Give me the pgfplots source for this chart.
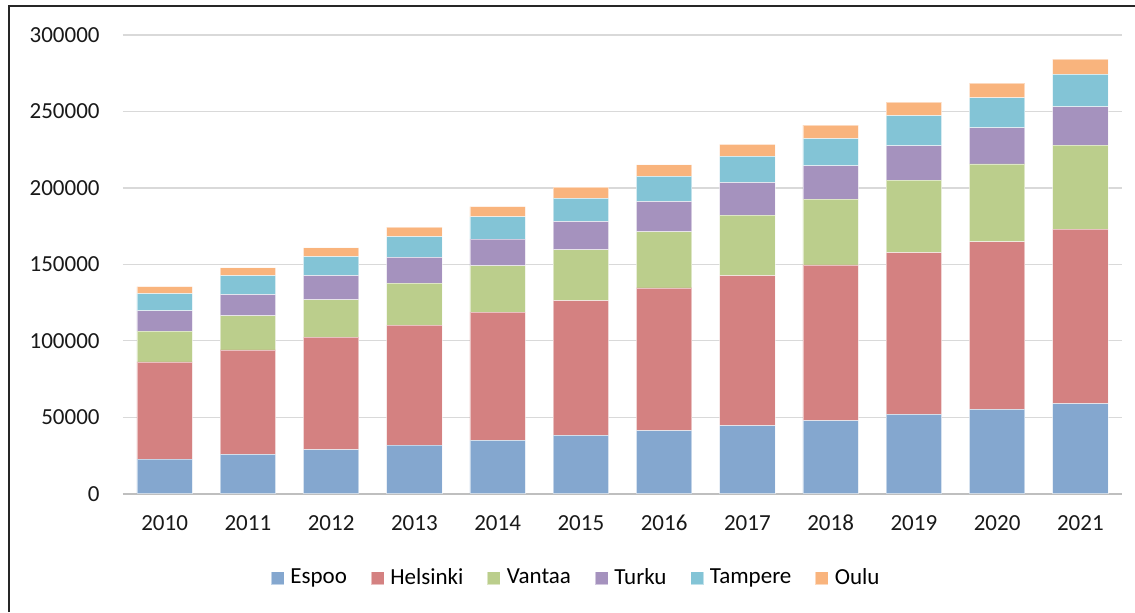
\documentclass[border=0pt]{standalone}
\usepackage{pgfplots}
\pgfplotsset{compat=1.18}
\usepackage{fontspec}
\setmainfont{Carlito}
\definecolor{cEspoo}{RGB}{132,167,207}
\definecolor{cHels}{RGB}{212,129,129}
\definecolor{cVant}{RGB}{187,206,140}
\definecolor{cTurku}{RGB}{165,146,190}
\definecolor{cTamp}{RGB}{131,196,214}
\definecolor{cOulu}{RGB}{249,180,125}
\definecolor{gridc}{RGB}{217,217,217}
\definecolor{axc}{RGB}{191,191,191}
\begin{document}
\begin{tikzpicture}
\begin{scope}[x=0.5pt,y=-0.5pt]
\path[use as bounding box] (0,0) rectangle (1135,612);
\draw[line width=0.6pt, black!85] (9,612) -- (9,6) -- (1135,6);
\coordinate (O) at (123,493.7);
\end{scope}
\begin{axis}[
  at={(O)}, anchor=south west,
  scale only axis, width=499.5pt, height=229.35pt,
  ybar stacked, bar width=27.7pt,
  xmin=-0.5, xmax=11.5, ymin=0, ymax=300000,
  xtick={0,...,11},
  xticklabels={2010,2011,2012,2013,2014,2015,2016,2017,2018,2019,2020,2021},
  ytick={0,50000,100000,150000,200000,250000,300000},
  scaled y ticks=false,
  /pgf/number format/.cd, fixed, 1000 sep={}, assume math mode=true, /pgfplots/.cd,
  tick label style={font=\fontsize{11.5}{13}\selectfont, text=black!90},
  yticklabel style={inner sep=0pt, anchor=east, xshift=-11.5pt},
  xticklabel style={inner sep=0pt, anchor=north, yshift=-10.5pt},
  major tick length=0pt,
  ymajorgrids, grid style={gridc, line width=0.6pt},
  axis line style={draw=none},
  axis lines*=left,
  clip=false,
  legend style={at={(0.4545,-0.1838)}, anchor=center, draw=none, fill=none,
    font=\fontsize{11.5}{13}\selectfont, legend columns=6,
    /tikz/every even column/.append style={column sep=9.8pt},
    /tikz/every odd column/.append style={column sep=1pt}},
  legend cell align=left,
  legend image code/.code={\fill[#1] (0pt,-3.25pt) rectangle (6.5pt,3.25pt);},
  every axis plot/.append style={draw=white, draw opacity=0.5, line width=0.4pt},
]
\addplot[fill=cEspoo] coordinates {(0,22700) (1,25800) (2,28800) (3,31700) (4,34900) (5,38200) (6,41200) (7,44500) (8,47800) (9,51900) (10,55200) (11,58900)};
\addplot[fill=cHels] coordinates {(0,63500) (1,68200) (2,73600) (3,78500) (4,83800) (5,88100) (6,93400) (7,98200) (8,101800) (9,105800) (10,109500) (11,114100)};
\addplot[fill=cVant] coordinates {(0,20100) (1,22300) (2,24400) (3,27500) (4,30300) (5,33200) (6,36700) (7,39500) (8,43000) (9,47400) (10,51000) (11,55000)};
\addplot[fill=cTurku] coordinates {(0,13300) (1,13900) (2,15900) (3,16800) (4,17500) (5,18500) (6,19800) (7,21200) (8,21800) (9,22400) (10,23600) (11,25000)};
\addplot[fill=cTamp] coordinates {(0,11300) (1,12500) (2,12400) (3,13700) (4,14600) (5,15100) (6,16400) (7,17200) (8,17900) (9,19700) (10,19600) (11,21200)};
\addplot[fill=cOulu] coordinates {(0,4600) (1,5000) (2,5700) (3,6200) (4,6700) (5,7400) (6,7600) (7,7800) (8,8700) (9,8900) (10,9700) (11,10100)};
\legend{Espoo,Helsinki,Vantaa,Turku,Tampere,Oulu}
\draw[axc, line width=1pt] (axis cs:-0.5,0) -- (axis cs:11.5,0);
\end{axis}
\end{tikzpicture}
\end{document}
